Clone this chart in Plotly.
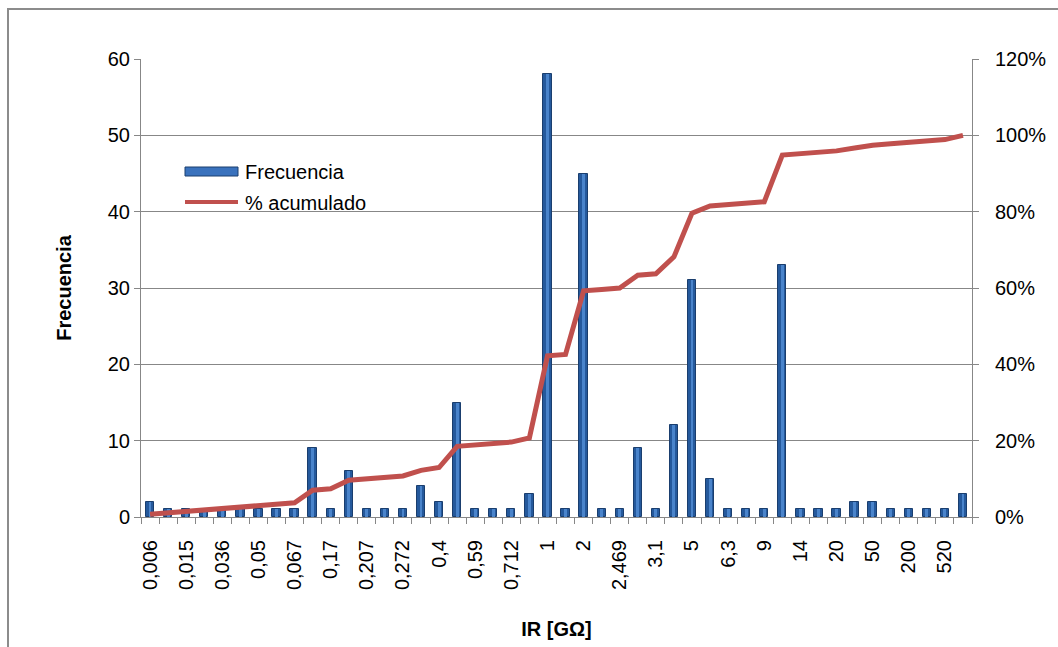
import numpy as np
import plotly.graph_objects as go

# Frequency of insulation-resistance readings per class (46 classes)
frecuencia = [2, 1, 1, 1, 1, 1, 1, 1, 1, 9,
              1, 6, 1, 1, 1, 4, 2, 15, 1, 1,
              1, 3, 58, 1, 45, 1, 1, 9, 1, 12,
              31, 5, 1, 1, 1, 33, 1, 1, 1, 2,
              2, 1, 1, 1, 1, 3]

# Class labels shown on the axis (every second class)
tick_labels = ["0,006", "0,015", "0,036", "0,05", "0,067", "0,17", "0,207",
               "0,272", "0,4", "0,59", "0,712", "1", "2", "2,469", "3,1",
               "5", "6,3", "9", "14", "20", "50", "200", "520"]

x = list(range(len(frecuencia)))
tick_pos = x[::2][:len(tick_labels)]
acumulado = np.cumsum(frecuencia) / np.sum(frecuencia)

FONT = "Arial, Liberation Sans, sans-serif"
GRID = "#878787"
W, H = 1058, 647
L, R, T, B = 141, 972, 59, 517


def px_x(p):
    return (p - L) / (R - L)


def px_y(p):
    return (B - p) / (B - T)


fig = go.Figure()

# bar body with darker rim
fig.add_trace(go.Bar(
    x=x, y=frecuencia, width=0.46, name="Frecuencia",
    marker=dict(color="#25599c", line=dict(color="#1a3e6e", width=1)),
    yaxis="y", showlegend=False,
))
# lighter centre stripe for the rounded look
fig.add_trace(go.Bar(
    x=x, y=frecuencia, width=0.16,
    marker=dict(color="#4a84cb", line=dict(width=0)),
    yaxis="y", showlegend=False, hoverinfo="skip",
))
fig.add_trace(go.Scatter(
    x=x, y=acumulado, mode="lines", name="% acumulado",
    line=dict(color="#c0504d", width=5),
    yaxis="y2", showlegend=False,
))

shapes = [
    # outer chart frame
    dict(type="rect", xref="paper", yref="paper",
         x0=px_x(8), x1=px_x(W + 20), y0=px_y(H + 20), y1=px_y(9),
         line=dict(color="#8c8c8c", width=2), fillcolor="rgba(0,0,0,0)", layer="below"),
    # legend swatches
    dict(type="rect", xref="paper", yref="paper",
         x0=px_x(185), x1=px_x(238), y0=px_y(176), y1=px_y(167),
         line=dict(color="#1a3e6e", width=1), fillcolor="#3a72bd"),
    dict(type="line", xref="paper", yref="paper",
         x0=px_x(185), x1=px_x(238), y0=px_y(202), y1=px_y(202),
         line=dict(color="#c0504d", width=4)),
]

annotations = [
    dict(text="Frecuencia", xref="paper", yref="paper", x=px_x(243), y=px_y(172),
         xanchor="left", yanchor="middle", showarrow=False,
         font=dict(family=FONT, size=20, color="#000")),
    dict(text="% acumulado", xref="paper", yref="paper", x=px_x(243), y=px_y(203),
         xanchor="left", yanchor="middle", showarrow=False,
         font=dict(family=FONT, size=20, color="#000")),
]

fig.update_layout(
    width=W, height=H,
    margin=dict(l=L, r=W - R, t=T, b=H - B),
    paper_bgcolor="white", plot_bgcolor="white",
    barmode="overlay", bargap=0,
    font=dict(family=FONT, size=20, color="#000"),
    shapes=shapes, annotations=annotations,
    xaxis=dict(
        range=[-0.5, len(frecuencia) - 0.5],
        tickmode="array", tickvals=tick_pos, ticktext=tick_labels,
        tickangle=-90, ticks="", ticklabelstandoff=14,
        showgrid=False, zeroline=False,
        showline=True, linecolor=GRID, linewidth=1,
        minor=dict(tickmode="linear", tick0=0.5, dtick=1, ticks="outside",
                   ticklen=6, tickcolor=GRID, showgrid=False),
        title=dict(text="<b>IR [GΩ]</b>", font=dict(size=20), standoff=32),
    ),
    yaxis=dict(
        range=[0, 60], dtick=10, tickmode="linear",
        showgrid=True, gridcolor=GRID, gridwidth=1,
        zeroline=False, showline=True, linecolor=GRID, linewidth=1,
        ticks="outside", ticklen=6, tickcolor=GRID,
        title=dict(text="<b>Frecuencia</b>", font=dict(size=20), standoff=30),
    ),
    yaxis2=dict(
        range=[0, 1.2], dtick=0.2, tickmode="linear", tickformat=".0%",
        overlaying="y", side="right",
        showgrid=False, zeroline=False, showline=True, linecolor=GRID, linewidth=1,
        ticks="outside", ticklen=6, tickcolor=GRID, ticklabelstandoff=12,
    ),
)

fig.write_html("out.html")
